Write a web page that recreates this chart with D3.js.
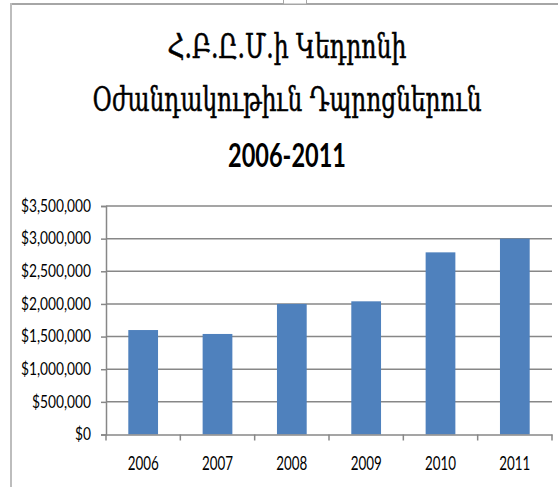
<!DOCTYPE html>
<html>
<head>
<meta charset="utf-8">
<script src="https://cdn.jsdelivr.net/npm/d3@7"></script>
<style>
    body { margin: 0; background: #fff; }
    svg { display: block; }
</style>
</head>
<body>
<div id="chart"></div>
<script>
// Chart data
const years = ["2006", "2007", "2008", "2009", "2010", "2011"];
const amounts = [1600000, 1540000, 2000000, 2040000, 2790000, 3000000];
const yTicks = [0, 500000, 1000000, 1500000, 2000000, 2500000, 3000000, 3500000];
const titleLines = ["Հ.Բ.Ը.Մ.ի Կեդրոնի", "Օժանդակութիւն Դպրոցներուն", "2006-2011"];

const W = 558, H = 487;
const margin = { top: 206, right: 6, bottom: 52.5, left: 106 };
const width = W - margin.left - margin.right;
const height = H - margin.top - margin.bottom;
const gray = "#878787";

const svg = d3.select("#chart").append("svg")
    .attr("width", W)
    .attr("height", H);

// squeeze text horizontally (the original is a vertically stretched picture)
function squeeze(sel, target) {
    sel.each(function () {
        const len = this.getComputedTextLength();
        const k = typeof target === "function" ? target(len) : target / len;
        d3.select(this)
            .attr("textLength", len * k)
            .attr("lengthAdjust", "spacingAndGlyphs");
    });
}

// frame of the chart object
svg.append("line")
    .attr("x1", 11).attr("x2", W).attr("y1", 4).attr("y2", 4)
    .attr("stroke", "#a6a6a6").attr("stroke-width", 2);
svg.append("line")
    .attr("x1", 11).attr("x2", 11).attr("y1", 3).attr("y2", H)
    .attr("stroke", "#bdbdbd").attr("stroke-width", 2);
svg.append("rect")
    .attr("x", 283.5).attr("y", -1).attr("width", 23).attr("height", 5)
    .attr("fill", "#fff").attr("stroke", "#a6a6a6").attr("stroke-width", 1);

// Title (scaled in x so each line gets the width it has in the picture)
const titleX = 287;
const titleSpec = [
    { y: 58, size: 34, family: "'DejaVu Serif', serif", weight: "normal", w: 239 },
    { y: 111, size: 34, family: "'DejaVu Serif', serif", weight: "normal", w: 389 },
    { y: 167, size: 33, family: "Lato, 'Open Sans', sans-serif", weight: "bold", w: 118 }
];
titleLines.forEach((t, i) => {
    const s = titleSpec[i];
    const tg = svg.append("g");
    const txt = tg.append("text")
        .attr("x", 0)
        .attr("y", 0)
        .attr("text-anchor", "middle")
        .style("font-family", s.family)
        .style("font-size", s.size + "px")
        .style("font-weight", s.weight)
        .attr("fill", "#000")
        .attr("stroke", i < 2 ? "#000" : "none")
        .attr("stroke-width", 0.6)
        .text(t);
    const k = s.w / txt.node().getComputedTextLength();
    tg.attr("transform", "translate(" + titleX + "," + s.y + ") scale(" + k + ",1)");
});

const g = svg.append("g")
    .attr("transform", "translate(" + margin.left + "," + margin.top + ")");

// Scales
const x = d3.scaleBand()
    .domain(years)
    .range([0, width])
    .paddingInner(0.6)
    .paddingOuter(0.3);

const y = d3.scaleLinear()
    .domain([0, 3500000])
    .range([height, 0]);

// Gridlines
g.selectAll(".grid")
    .data(yTicks.filter(d => d > 0))
    .join("line")
    .attr("class", "grid")
    .attr("x1", 0)
    .attr("x2", width)
    .attr("y1", d => y(d))
    .attr("y2", d => y(d))
    .attr("stroke", gray)
    .attr("stroke-width", 1.5);

// Bars
g.selectAll(".bar")
    .data(years.map((d, i) => ({ year: d, value: amounts[i] })))
    .join("rect")
    .attr("class", "bar")
    .attr("x", d => x(d.year))
    .attr("y", d => y(d.value))
    .attr("width", x.bandwidth())
    .attr("height", d => height - y(d.value))
    .attr("fill", "#4f81bd");

// Y axis
const yAxis = d3.axisLeft(y)
    .tickValues(yTicks)
    .tickSize(5)
    .tickPadding(10)
    .tickFormat(d3.format("$,"));

const yG = g.append("g").attr("class", "y-axis").call(yAxis);
yG.select(".domain").attr("stroke", gray).attr("stroke-width", 1.5);
yG.selectAll(".tick line").attr("stroke", gray).attr("stroke-width", 1.5);
const yText = yG.selectAll(".tick text")
    .style("font-family", "Lato, 'Open Sans', sans-serif")
    .style("font-size", "16.5px")
    .attr("fill", "#000");
// scale all labels like the widest one ($3,500,000 -> 70px)
const yK = 70 / yText.nodes()[yText.size() - 1].getComputedTextLength();
yText.call(squeeze, len => yK);

// X axis
const xAxis = d3.axisBottom(x)
    .tickSize(0)
    .tickSizeOuter(0);

const xG = g.append("g")
    .attr("class", "x-axis")
    .attr("transform", "translate(0," + height + ")")
    .call(xAxis);
xG.select(".domain").attr("stroke", gray).attr("stroke-width", 1.5);
const xText = xG.selectAll(".tick text")
    .attr("y", 22)
    .style("font-family", "Lato, 'Open Sans', sans-serif")
    .style("font-size", "19.5px")
    .attr("fill", "#000");
const xK = 31 / xText.nodes()[0].getComputedTextLength();
xText.call(squeeze, len => xK);

// tick marks between categories
const bounds = years.map(d => x(d) - x.step() * x.paddingOuter()).concat([width]);
xG.selectAll(".sep")
    .data(bounds)
    .join("line")
    .attr("class", "sep")
    .attr("x1", d => d)
    .attr("x2", d => d)
    .attr("y1", 0)
    .attr("y2", 6)
    .attr("stroke", gray)
    .attr("stroke-width", 1.5);
</script>
</body>
</html>
